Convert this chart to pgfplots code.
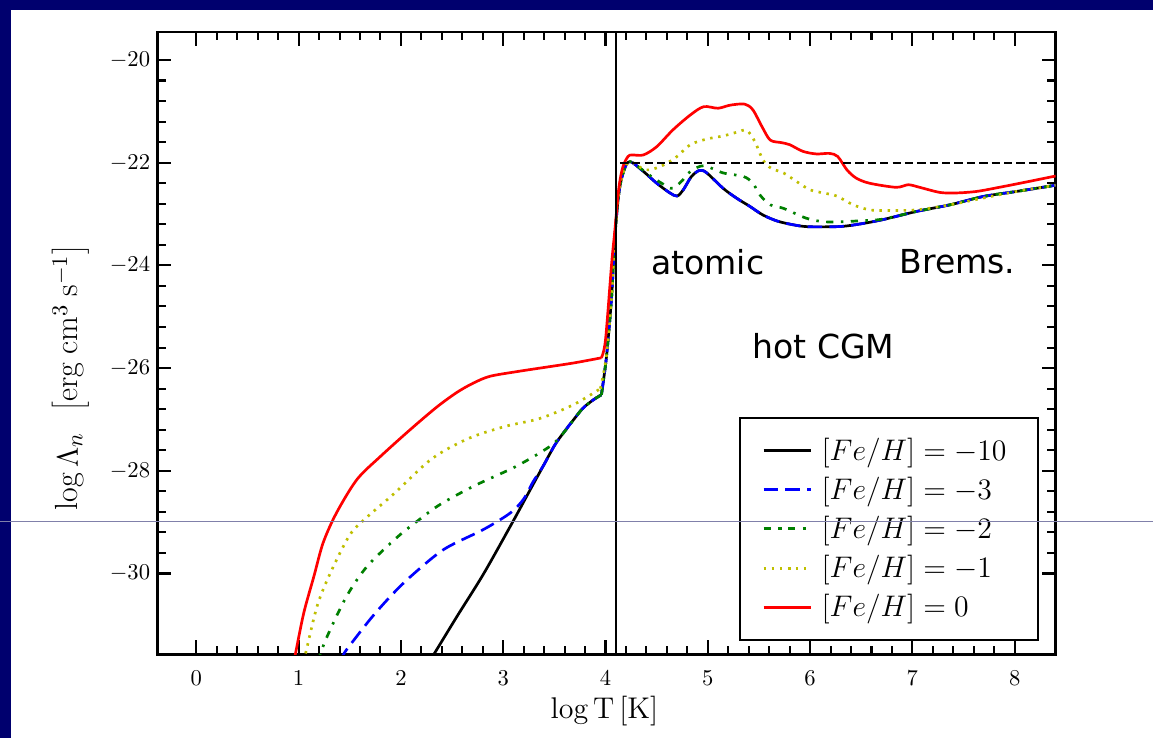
\documentclass[border=0pt]{standalone}
\usepackage{fontspec}
\usepackage{pgfplots}
\usepackage{pgfplotstable}
\pgfplotsset{compat=1.18}
\newfontfamily\annfont{DejaVu Sans}
\definecolor{slidenavy}{HTML}{00006E}
\definecolor{mplgreen}{rgb}{0,0.5,0}
\definecolor{mplyellow}{rgb}{0.75,0.75,0}
\definecolor{artline}{RGB}{128,128,170}

% log T, log Lambda_n ; each curve split at the kink near log T = 3.96
\pgfplotstableread{
x y
2.28 -31.70
2.32 -31.58
2.55 -30.83
2.81 -30.00
3.10 -28.97
3.25 -28.42
3.39 -27.91
3.51 -27.48
3.62 -27.18
3.69 -27.00
3.78 -26.78
3.88 -26.62
3.96 -26.52
}\femtenlo

% shared high-T part of [Fe/H] = -10 and -3
\pgfplotstableread{
x y
3.96 -26.52
4.01 -25.77
4.06 -24.60
4.09 -23.50
4.13 -22.60
4.18 -22.15
4.24 -21.98
4.37 -22.17
4.50 -22.40
4.63 -22.59
4.70 -22.65
4.76 -22.53
4.84 -22.27
4.92 -22.15
4.99 -22.20
5.15 -22.50
5.28 -22.69
5.41 -22.85
5.54 -23.02
5.70 -23.15
5.93 -23.24
6.13 -23.25
6.32 -23.24
6.50 -23.19
6.71 -23.11
7.04 -22.95
7.37 -22.82
7.69 -22.66
8.02 -22.56
8.40 -22.44
}\femtenhi

\pgfplotstableread{
x y
1.40 -31.70
1.44 -31.58
1.47 -31.48
1.70 -30.89
1.90 -30.44
2.10 -30.05
2.42 -29.53
2.81 -29.14
3.07 -28.82
3.20 -28.55
3.29 -28.22
3.39 -27.91
3.51 -27.48
3.62 -27.18
3.69 -27.00
3.78 -26.78
3.88 -26.62
3.96 -26.52
}\fethreelo

\pgfplotstableread{
x y
1.19 -31.70
1.21 -31.58
1.28 -31.22
1.47 -30.44
1.67 -29.86
1.96 -29.30
2.16 -28.98
2.38 -28.66
2.71 -28.30
3.13 -27.91
3.46 -27.52
3.59 -27.26
3.69 -27.00
3.78 -26.78
3.88 -26.62
3.96 -26.52
}\fetwolo

\pgfplotstableread{
x y
3.96 -26.52
4.01 -25.77
4.06 -24.60
4.09 -23.50
4.13 -22.60
4.18 -22.15
4.24 -21.98
4.34 -22.11
4.47 -22.30
4.60 -22.46
4.66 -22.50
4.75 -22.35
4.83 -22.17
4.96 -22.06
5.15 -22.20
5.35 -22.27
5.44 -22.40
5.51 -22.63
5.61 -22.82
5.74 -22.89
5.96 -23.08
6.13 -23.15
6.32 -23.15
6.50 -23.13
6.71 -23.10
7.04 -22.95
7.37 -22.82
7.69 -22.66
8.02 -22.56
8.40 -22.44
}\fetwohi

\pgfplotstableread{
x y
1.04 -31.70
1.065 -31.58
1.18 -30.64
1.31 -29.99
1.50 -29.25
1.67 -28.90
1.93 -28.45
2.25 -27.85
2.45 -27.58
2.71 -27.33
3.03 -27.13
3.36 -26.98
3.69 -26.71
3.95 -26.40
}\feonelo

\pgfplotstableread{
x y
3.95 -26.40
4.01 -25.75
4.06 -24.60
4.09 -23.50
4.13 -22.60
4.18 -22.15
4.24 -21.98
4.39 -22.14
4.53 -22.08
4.68 -21.91
4.83 -21.65
4.99 -21.54
5.15 -21.48
5.28 -21.41
5.38 -21.37
5.46 -21.59
5.54 -21.95
5.62 -22.11
5.74 -22.20
5.87 -22.37
6.00 -22.53
6.13 -22.59
6.26 -22.65
6.42 -22.82
6.58 -22.92
6.71 -22.93
7.04 -22.92
7.37 -22.82
7.69 -22.69
8.02 -22.56
8.40 -22.44
}\feonehi

\pgfplotstableread{
x y
0.95 -31.70
0.967 -31.58
1.05 -30.77
1.15 -30.05
1.24 -29.40
1.37 -28.82
1.57 -28.17
1.80 -27.72
2.09 -27.20
2.35 -26.76
2.55 -26.47
2.71 -26.29
2.87 -26.16
3.13 -26.07
3.36 -26.00
3.69 -25.90
3.96 -25.80
}\fezerolo

\pgfplotstableread{
x y
3.96 -25.80
4.00 -25.45
4.06 -23.96
4.09 -23.35
4.13 -22.50
4.17 -22.08
4.22 -21.88
4.26 -21.85
4.37 -21.85
4.50 -21.69
4.66 -21.36
4.83 -21.07
4.96 -20.91
5.10 -20.94
5.22 -20.88
5.36 -20.86
5.44 -20.97
5.53 -21.30
5.61 -21.56
5.72 -21.61
5.80 -21.65
5.93 -21.78
6.06 -21.83
6.19 -21.82
6.27 -21.88
6.36 -22.14
6.45 -22.30
6.58 -22.40
6.84 -22.48
6.96 -22.43
7.07 -22.48
7.27 -22.58
7.43 -22.59
7.63 -22.56
7.85 -22.48
8.08 -22.39
8.40 -22.26
}\fezerohi

\begin{document}
\begin{tikzpicture}
% slide frame, 1 unit = 1 px of the screenshot, origin at the axis corner
\begin{scope}[x=0.17mm,y=0.17mm]
\fill[slidenavy] (-157,-84) rectangle (996,655);
\fill[white] (-146,-84) rectangle (996,645);
\end{scope}

\begin{axis}[
  at={(0,0)}, anchor=south west,
  scale only axis, width=152.83mm, height=105.91mm,
  xmin=-0.381, xmax=8.40, ymin=-31.576, ymax=-19.455,
  xtick={0,...,8}, ytick={-30,-28,...,-20},
  minor x tick num=4, minor y tick num=4,
  tick align=inside,
  major tick length=2.4mm, minor tick length=1.4mm,
  every tick/.style={black, line width=1pt},
  axis line style={line width=1.4pt},
  tick label style={font=\fontsize{10.5}{12}\selectfont},
  xticklabel style={yshift=-1.6mm},
  xlabel={$\log\mathrm{T}\,[\mathrm{K}]$},
  ylabel={$\log\Lambda_n\;\;\left[\mathrm{erg\;cm^3\;s^{-1}}\right]$},
  label style={font=\fontsize{14.5}{17}\selectfont},
  ylabel style={font=\fontsize{15.5}{18}\selectfont},
  xlabel style={at={(axis description cs:0.4978,-0.0915)}, anchor=center},
  ylabel style={at={(axis description cs:-0.0967,0.4446)}, anchor=center},
  legend cell align=left,
  legend image code/.code={
    \draw[mark repeat=2,mark phase=2,line width=1.4pt,#1] plot coordinates {(0cm,0cm) (0.4cm,0cm) (0.8cm,0cm)};},
  legend style={at={(rel axis cs:0.982,0.0213)}, anchor=south east,
    draw=black, line width=1.1pt, font=\fontsize{14.5}{17}\selectfont,
    inner xsep=3.8mm, inner ysep=3.4mm, row sep=2.35mm,
    nodes={inner xsep=1.6mm, inner ysep=0pt}},
  every axis plot/.append style={line width=1.3pt, line join=round, smooth, tension=0.5},
]
\addplot[black] table {\femtenlo};
\addlegendentry{$[Fe/H]=-10$}
\addplot[black, forget plot] table {\femtenhi};
\addplot[blue, dash pattern=on 7pt off 3.5pt] table {\fethreelo};
\addlegendentry{$[Fe/H]=-3$}
\addplot[blue, dash pattern=on 7pt off 3.5pt, forget plot] table {\femtenhi};
\addplot[mplgreen, dash pattern=on 3.5pt off 3.6pt on 1.2pt off 3.6pt] table {\fetwolo};
\addlegendentry{$[Fe/H]=-2$}
\addplot[mplgreen, dash pattern=on 3.5pt off 3.6pt on 1.2pt off 3.6pt, forget plot] table {\fetwohi};
\addplot[mplyellow, dash pattern=on 1.2pt off 2.7pt] table {\feonelo};
\addlegendentry{$[Fe/H]=-1$}
\addplot[mplyellow, dash pattern=on 1.2pt off 2.7pt, forget plot] table {\feonehi};
\addplot[red] table {\fezerolo};
\addlegendentry{$[Fe/H]=0$}
\addplot[red, forget plot] table {\fezerohi};

\addplot[black, line width=1.2pt, sharp plot, forget plot] coordinates {(4.10,-31.576) (4.10,-19.455)};
\addplot[black, line width=1.1pt, sharp plot, dash pattern=on 4pt off 2pt, forget plot] coordinates {(4.14,-22.0) (8.40,-22.0)};

\node[font=\annfont\fontsize{16}{19}\selectfont] at (axis cs:5.00,-23.93) {atomic};
\node[font=\annfont\fontsize{16}{19}\selectfont] at (axis cs:7.44,-23.93) {Brems.};
\node[font=\annfont\fontsize{16}{19}\selectfont] at (axis cs:6.13,-25.58) {hot CGM};
\end{axis}

\begin{scope}[x=0.17mm,y=0.17mm]
\draw[artline, line width=0.17mm] (-157,133) -- (996,133);
\end{scope}
\end{tikzpicture}
\end{document}
